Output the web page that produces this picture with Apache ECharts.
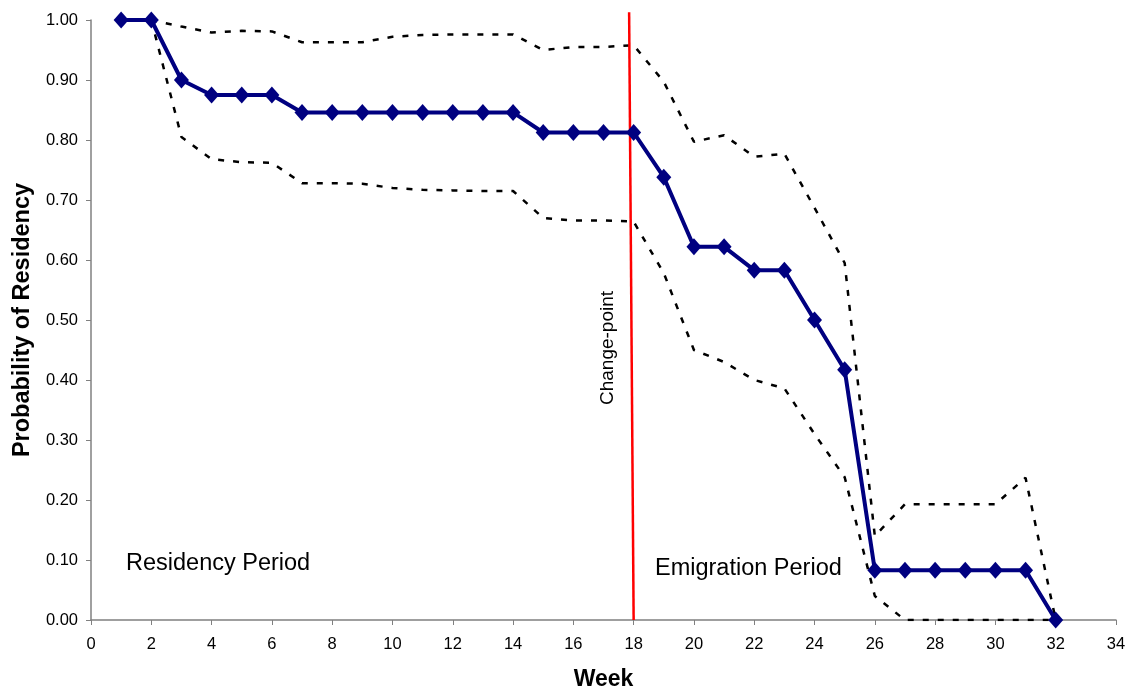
<!DOCTYPE html>
<html>
<head>
<meta charset="utf-8">
<script src="https://cdn.jsdelivr.net/npm/echarts@6/dist/echarts.min.js"></script>
<style>
  html, body { margin: 0; padding: 0; background: #fff; }
  #chart { width: 1127px; height: 691px; }
</style>
</head>
<body>
<div id="chart"></div>
<script>
// weeks and estimated probability of residency
const weeks = [1, 2, 3, 4, 5, 6, 7, 8, 9, 10, 11, 12, 13, 14, 15, 16, 17, 18, 19, 20, 21, 22, 23, 24, 25, 26, 27, 28, 29, 30, 31, 32]
const residency = [1.0, 1.0, 0.9, 0.875, 0.875, 0.875, 0.846, 0.846, 0.846, 0.846, 0.846, 0.846, 0.846, 0.846,
  0.8125, 0.8125, 0.8125, 0.8125, 0.738, 0.622, 0.622, 0.583, 0.583, 0.5, 0.417,
  0.083, 0.083, 0.083, 0.083, 0.083, 0.083, 0.0]
// confidence bounds (dotted)
const upperBound = [1.0, 1.0, 0.989, 0.979, 0.982, 0.981, 0.963, 0.963, 0.963, 0.972, 0.975, 0.976, 0.976, 0.976,
  0.95, 0.955, 0.955, 0.958, 0.897, 0.797, 0.808, 0.772, 0.777, 0.687, 0.595,
  0.14, 0.193, 0.193, 0.193, 0.193, 0.237, 0.0]
const lowerBound = [1.0, 1.0, 0.805, 0.768, 0.763, 0.762, 0.728, 0.728, 0.727, 0.72, 0.717, 0.716, 0.715, 0.715,
  0.67, 0.666, 0.666, 0.664, 0.578, 0.45, 0.43, 0.4, 0.386, 0.31, 0.238,
  0.04, 0.0, 0.0, 0.0, 0.0, 0.0, 0.0]
// change-point line (slightly slanted in the original)
const changePoint = [[17.85, 1.013], [18.0, 0.0]]
const xTicks = { min: 0, max: 34, interval: 2 }
const yTicks = { min: 0, max: 1, interval: 0.1 }

const pairs = (ys) => weeks.map((w, i) => [w, ys[i]])

const chart = echarts.init(document.getElementById('chart'))

const font = 'Liberation Sans, Arial, sans-serif'

const option = {
  backgroundColor: '#fff',
  animation: false,
  grid: { left: 91, right: 11, top: 20, bottom: 71, outerBoundsMode: 'none' },
  xAxis: {
    type: 'value',
    min: xTicks.min,
    max: xTicks.max,
    interval: xTicks.interval,
    name: 'Week',
    nameLocation: 'middle',
    nameGap: 48,
    nameTextStyle: { fontFamily: font, fontSize: 23, fontWeight: 'bold', color: '#000' },
    axisLine: { lineStyle: { color: '#808080', width: 1.5 } },
    axisTick: { show: true, length: 5, lineStyle: { color: '#808080' } },
    axisLabel: { fontFamily: font, fontSize: 16.5, color: '#000', margin: 16 },
    splitLine: { show: false },
  },
  yAxis: {
    type: 'value',
    min: yTicks.min,
    max: yTicks.max,
    interval: yTicks.interval,
    name: 'Probability of Residency',
    nameLocation: 'middle',
    nameGap: 54,
    nameTextStyle: { fontFamily: font, fontSize: 23.5, fontWeight: 'bold', color: '#000' },
    axisLine: { show: true, lineStyle: { color: '#808080', width: 1.5 } },
    axisTick: { show: true, length: 5, lineStyle: { color: '#808080' } },
    axisLabel: {
      fontFamily: font, fontSize: 16.5, color: '#000', margin: 13,
      formatter: (v) => v.toFixed(2),
    },
    splitLine: { show: false },
  },
  series: [
    {
      name: 'upper',
      type: 'line',
      data: pairs(upperBound),
      symbol: 'none',
      lineStyle: { color: '#000', width: 2.5, type: [6, 9] },
      z: 2,
    },
    {
      name: 'lower',
      type: 'line',
      data: pairs(lowerBound),
      symbol: 'none',
      lineStyle: { color: '#000', width: 2.5, type: [6, 9] },
      z: 2,
    },
    {
      name: 'change-point',
      type: 'line',
      data: changePoint,
      symbol: 'none',
      clip: false,
      lineStyle: { color: '#ff0000', width: 2.5 },
      z: 3,
    },
    {
      name: 'residency',
      type: 'line',
      data: pairs(residency),
      symbol: 'diamond',
      symbolSize: [15, 17],
      lineStyle: { color: '#000080', width: 4 },
      itemStyle: { color: '#000080' },
      z: 4,
    },
  ],
  graphic: [
    {
      type: 'text',
      left: 126,
      top: 552,
      style: { text: 'Residency Period', fontFamily: font, fontSize: 23.5, fill: '#000' },
    },
    {
      type: 'text',
      left: 655,
      top: 557,
      style: { text: 'Emigration Period', fontFamily: font, fontSize: 23.5, fill: '#000' },
    },
    {
      type: 'text',
      x: 617,
      y: 348,
      rotation: Math.PI / 2,
      style: {
        text: 'Change-point', fontFamily: font, fontSize: 19, fill: '#000',
        align: 'center', verticalAlign: 'bottom',
      },
    },
  ],
}

chart.setOption(option)
</script>
</body>
</html>
